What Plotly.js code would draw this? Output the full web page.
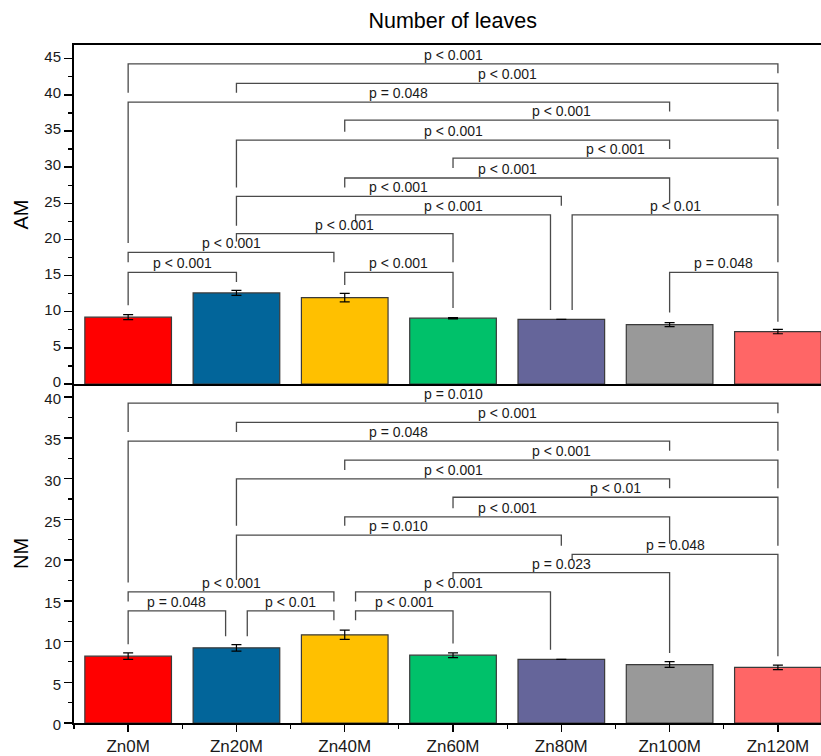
<!DOCTYPE html>
<html>
<head>
<meta charset="utf-8">
<script src="https://cdn.plot.ly/plotly-3.0.1.min.js"></script>
<style>html,body{margin:0;padding:0;background:#fff;}</style>
</head>
<body>
<div id="chart" style="width:821px;height:756px;"></div>
<script>
// ---- data ----
const categories = ["Zn0M", "Zn20M", "Zn40M", "Zn60M", "Zn80M", "Zn100M", "Zn120M"];
const barColors = ["#FF0000", "#02659A", "#FFC000", "#00C16A", "#65659A", "#999999", "#FF6666"];

const amValues = [9.25, 12.6, 11.95, 9.1, 8.95, 8.22, 7.25];
const amErrors = [0.35, 0.35, 0.58, 0.08, null, 0.28, 0.3];
const nmValues = [8.2, 9.22, 10.82, 8.32, 7.8, 7.17, 6.82];
const nmErrors = [0.4, 0.4, 0.57, 0.29, null, 0.35, 0.27];

// significance brackets (category index from/to, bracket level, leg ends, label)
const amFrom  = [0, 1, 0, 2, 1, 3, 2, 1, 2.1, 4.1, 1, 0, 0, 2, 5];
const amTo    = [6, 6, 5, 6, 5, 6, 5, 4, 3.9, 6, 3, 1.9, 1, 3, 6];
const amLevel = [44.3, 41.6, 39.0, 36.5, 33.75, 31.25, 28.5, 25.95, 23.4, 23.4, 20.8, 18.2, 15.45, 15.45, 15.45];
const amLeftEnd  = [40.3, 40.3, 19.5, 34.9, 27.2, 29.9, 27.2, 21.9, 22.35, 10.25, 19.7, 16.85, 10.9, 13.7, 9.9];
const amRightEnd = [43.0, 37.7, 37.7, 32.5, 32.5, 24.65, 25.0, 24.65, 10.25, 16.85, 16.85, 16.85, 14.1, 10.5, 8.6];
const amLabels = ["p < 0.001", "p < 0.001", "p = 0.048", "p < 0.001", "p < 0.001", "p < 0.001", "p < 0.001",
                  "p < 0.001", "p < 0.001", "p < 0.01", "p < 0.001", "p < 0.001", "p < 0.001", "p < 0.001", "p = 0.048"];

const nmFrom  = [0, 1, 0, 2, 1, 3, 2, 1, 4.1, 3, 0, 2.1, 0, 1.1, 2.1];
const nmTo    = [6, 6, 5, 6, 5, 6, 5, 4, 6, 5, 1.9, 3.9, 0.9, 1.9, 3];
const nmLevel = [39.26, 36.9, 34.6, 32.25, 29.95, 27.7, 25.3, 23.05, 20.7, 18.45, 16.1, 16.1, 13.75, 13.75, 13.75];
const nmLeftEnd  = [35.7, 35.7, 17.25, 31.05, 24.2, 26.35, 24.2, 17.55, 20.0, 17.75, 14.9, 14.9, 9.65, 10.65, 12.6];
const nmRightEnd = [38.0, 33.4, 33.4, 28.8, 28.8, 21.75, 22.0, 21.75, 8.2, 8.6, 14.9, 9.0, 10.65, 12.6, 9.75];
const nmLabels = ["p = 0.010", "p < 0.001", "p = 0.048", "p < 0.001", "p < 0.001", "p < 0.01", "p < 0.001",
                  "p = 0.010", "p = 0.048", "p = 0.023", "p < 0.001", "p < 0.001", "p = 0.048", "p < 0.01", "p < 0.001"];

// ---- build ----
const FONT = "Liberation Sans, Arial, sans-serif";
const xIdx = categories.map((_, i) => i);

function barTrace(vals, errs, xa, ya) {
  return {
    type: "bar", x: xIdx, y: vals, xaxis: xa, yaxis: ya, width: 0.8,
    marker: { color: barColors, line: { color: "#3a3a3a", width: 1.2 } },
    error_y: { type: "data", array: errs, visible: true, color: "#000", thickness: 1.2, width: 5 },
    showlegend: false, hoverinfo: "x+y"
  };
}

const shapes = [];
const annotations = [];
function addBrackets(from, to, level, le, re, labels, yref) {
  for (let i = 0; i < from.length; i++) {
    shapes.push({
      type: "path", xref: "x", yref: yref,
      path: `M ${from[i]},${le[i]} L ${from[i]},${level[i]} L ${to[i]},${level[i]} L ${to[i]},${re[i]}`,
      line: { color: "#4a4a4a", width: 1.3 }
    });
    annotations.push({
      xref: "x", yref: yref, x: (from[i] + to[i]) / 2, y: level[i],
      text: labels[i].replace("<", "&lt;"), showarrow: false, yanchor: "bottom", yshift: -1,
      font: { family: FONT, size: 14, color: "#1a1a1a" }
    });
  }
}
addBrackets(amFrom, amTo, amLevel, amLeftEnd, amRightEnd, amLabels, "y");
addBrackets(nmFrom, nmTo, nmLevel, nmLeftEnd, nmRightEnd, nmLabels, "y2");

const yCommon = {
  showline: true, linecolor: "#000", linewidth: 2, mirror: true,
  ticks: "outside", ticklen: 8, tickwidth: 1.5, tickcolor: "#000", dtick: 5, tick0: 0,
  minor: { ticks: "outside", ticklen: 4, tickwidth: 1.2, tickcolor: "#000", dtick: 2.5, tick0: 0 },
  showgrid: false, zeroline: false,
  tickfont: { family: FONT, size: 15, color: "#1a1a1a" }
};

const layout = {
  width: 821, height: 756,
  margin: { l: 74, r: 0, t: 45, b: 33 },
  paper_bgcolor: "#fff", plot_bgcolor: "#fff",
  font: { family: FONT },
  title: {
    text: "Number of leaves", xref: "paper", x: 0.507, xanchor: "center",
    yref: "container", y: 1 - 20 / 756, yanchor: "middle",
    font: { family: FONT, size: 21.5, color: "#000" }
  },
  xaxis: {
    anchor: "y2", domain: [0, 1], range: [-0.5, 6.398],
    tickmode: "array", tickvals: xIdx, ticktext: categories,
    showline: true, linecolor: "#000", linewidth: 2, mirror: false,
    ticks: "outside", ticklen: 7, tickwidth: 1.5, tickcolor: "#000",
    minor: { ticks: "outside", ticklen: 4, tickwidth: 1.2, tickcolor: "#000", tickmode: "linear", tick0: 0.5, dtick: 1 },
    showgrid: false, zeroline: false,
    tickfont: { family: FONT, size: 17, color: "#1a1a1a" }
  },
  xaxis2: {
    anchor: "y", matches: "x", domain: [0, 1], range: [-0.5, 6.398],
    showticklabels: false, ticks: "",
    showline: true, linecolor: "#000", linewidth: 2, mirror: true,
    showgrid: false, zeroline: false
  },
  yaxis: Object.assign({}, yCommon, {
    anchor: "x2", domain: [0.5, 1], range: [0, 46.9], ticklabelshift: -2,
    title: { text: "AM", standoff: 10, font: { family: FONT, size: 20, color: "#000" } }
  }),
  yaxis2: Object.assign({}, yCommon, {
    anchor: "x", domain: [0, 0.5], range: [0, 41.6], ticklabelshift: 2,
    title: { text: "NM", standoff: 10, font: { family: FONT, size: 20, color: "#000" } }
  }),
  shapes: shapes,
  annotations: annotations
};

Plotly.newPlot("chart", [
  barTrace(amValues, amErrors, "x2", "y"),
  barTrace(nmValues, nmErrors, "x", "y2")
], layout, { staticPlot: true, displayModeBar: false });
</script>
</body>
</html>
